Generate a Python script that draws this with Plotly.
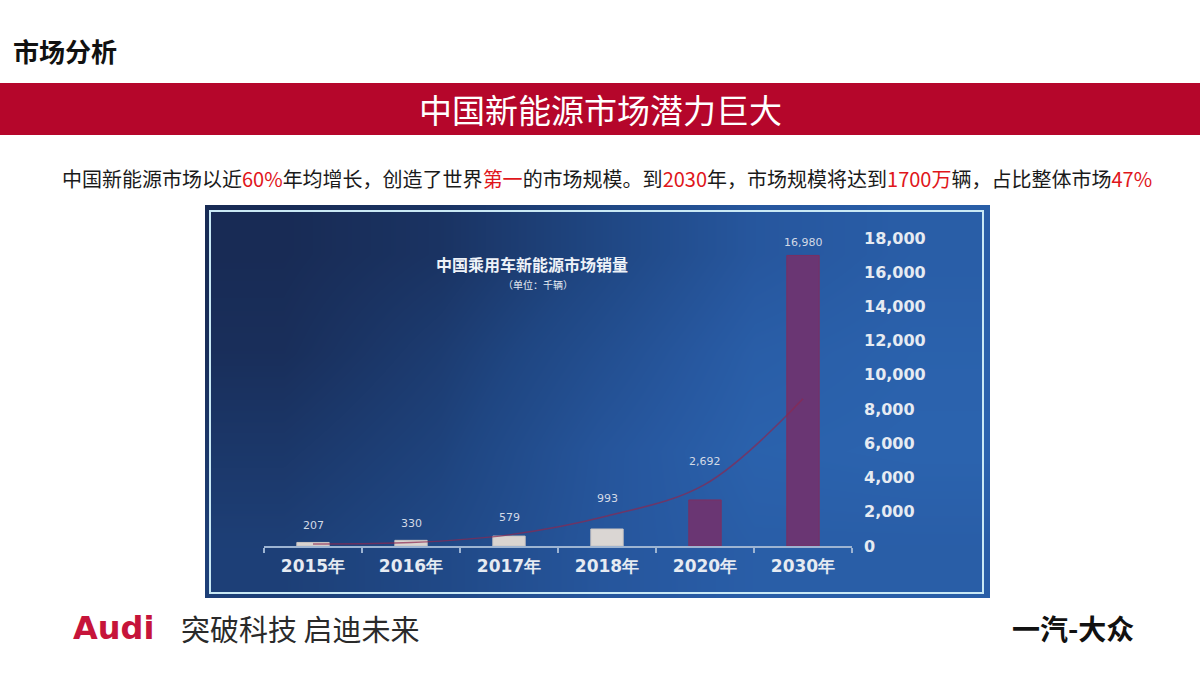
import plotly.graph_objects as go

# ---- data ----
years = ["2015年", "2016年", "2017年", "2018年", "2020年", "2030年"]
sales = [207, 330, 579, 993, 2692, 16980]
sales_text = ["207", "330", "579", "993", "2,692", "16,980"]
trend = [120, 200, 650, 1750, 3600, 8600]
y_ticks = [0, 2000, 4000, 6000, 8000, 10000, 12000, 14000, 16000, 18000]

# ---- styles ----
bar_colors = ["#D9D4D0", "#D9D4D0", "#D9D4D0", "#DAD6D3", "#6A3673", "#6A3673"]
label_shift = [8, 8, 10, 22, 30, 4]
W, H = 1200, 675

def px_x(x):
    return x / W

def px_y(y):
    return 1 - y / H

fig = go.Figure()

# gradient background of the chart image (hidden axes x/y, drawn first)
bg_z = [
    [0.30, 0.45, 0.70, 0.85, 0.85],
    [0.18, 0.35, 0.68, 0.92, 0.95],
    [0.05, 0.25, 0.55, 0.85, 0.92],
    [0.00, 0.12, 0.40, 0.72, 0.85],
]
fig.add_trace(go.Heatmap(
    z=bg_z, xaxis="x", yaxis="y", zsmooth="best", showscale=False,
    colorscale=[[0, "#182B55"], [0.4, "#1F4682"], [0.75, "#2758A0"], [1, "#2C66B2"]],
    hoverinfo="skip", zmin=0, zmax=1,
))

# trend curve
fig.add_trace(go.Scatter(
    x=years, y=trend, xaxis="x2", yaxis="y2", mode="lines",
    line=dict(color="rgba(140,40,80,0.7)", width=1.5, shape="spline"),
    hoverinfo="skip", showlegend=False,
))

# bars
fig.add_trace(go.Bar(
    x=years, y=sales, xaxis="x2", yaxis="y2", width=0.33,
    marker=dict(color=bar_colors, line=dict(color=["#C9C4C2"] * 4 + ["#7B2F62"] * 2, width=1)),
    showlegend=False, hoverinfo="skip",
))

annotations = []
for yr, v, t, s in zip(years, sales, sales_text, label_shift):
    annotations.append(dict(
        x=yr, y=v, xref="x2", yref="y2", text=t, showarrow=False, yanchor="bottom",
        xanchor="center", yshift=s, font=dict(family="DejaVu Sans", size=11, color="#D3DAE6"),
    ))

def paper_text(x, y, text, size, color, family="Noto Sans CJK SC", xanchor="center"):
    annotations.append(dict(x=px_x(x), y=px_y(y), xref="paper", yref="paper",
                            xanchor=xanchor, yanchor="middle", text=text, showarrow=False,
                            font=dict(family=family, size=size, color=color)))

# chart title
paper_text(532, 264, "<b>中国乘用车新能源市场销量</b>", 16, "#EEF2F8")
paper_text(538, 284, "（单位：千辆）", 10, "#E4EAF2")

# slide texts
paper_text(11, 50, "<b>市场分析</b>", 26, "#111111", xanchor="left")
paper_text(600, 109, "中国新能源市场潜力巨大", 33, "#FFFFFF")
red = "#E0161B"
sub = ("中国新能源市场以近<span style='color:%s'>60%%</span>年均增长，创造了世界"
       "<span style='color:%s'>第一</span>的市场规模。到<span style='color:%s'>2030</span>年，"
       "市场规模将达到<span style='color:%s'>1700万</span>辆，占比整体市场"
       "<span style='color:%s'>47%%</span>") % (red, red, red, red, red)
paper_text(607, 178, sub, 20, "#1A1A1A")
paper_text(71, 628, "<b>Audi</b>", 32, "#C6143A", family="DejaVu Sans", xanchor="left")
paper_text(179, 628, "突破科技 启迪未来", 29, "#2A2A2A", xanchor="left")
paper_text(1136, 628, "<b>一汽-大众</b>", 28, "#111111", xanchor="right")

shapes = [
    dict(type="rect", xref="paper", yref="paper", x0=0, x1=1, y0=px_y(135), y1=px_y(83),
         fillcolor="#B5062B", line=dict(width=0), layer="below"),
    dict(type="rect", xref="paper", yref="paper", x0=px_x(210), x1=px_x(983),
         y0=px_y(593), y1=px_y(211), line=dict(color="#C9E9F5", width=2)),
]

fig.update_layout(
    width=W, height=H, margin=dict(l=0, r=0, t=0, b=0, pad=0, autoexpand=False),
    paper_bgcolor="#FFFFFF", plot_bgcolor="rgba(0,0,0,0)",
    showlegend=False, annotations=annotations, shapes=shapes,
    xaxis=dict(domain=[px_x(205), px_x(990)], visible=False, anchor="y",
               range=[-0.5, 4.5], fixedrange=True),
    yaxis=dict(domain=[px_y(598), px_y(205)], visible=False, anchor="x",
               range=[-0.5, 3.5], fixedrange=True),
    xaxis2=dict(domain=[px_x(264), px_x(852)], type="category", tickson="boundaries",
                showline=True, linecolor="#9DB4D2", linewidth=2, ticks="outside",
                ticklen=5, tickcolor="#9DB4D2", tickwidth=2, showgrid=False,
                tickfont=dict(family="DejaVu Sans", size=17, color="#E6EBF2", weight="bold"),
                ticklabelstandoff=4, anchor="y2", fixedrange=True),
    yaxis2=dict(domain=[px_y(546), px_y(238)], range=[0, 18000], side="right",
                tickvals=y_ticks, tickformat=",d", showgrid=False, zeroline=False,
                showline=False, ticks="", ticklabelstandoff=11,
                tickfont=dict(family="DejaVu Sans", size=16, color="#E6EBF2", weight="bold"),
                anchor="x2", fixedrange=True),
    bargap=0.67,
)

fig.write_html("out.html", config={"displayModeBar": False},
               post_script="document.body.style.margin='0';document.body.style.overflow='hidden';")
